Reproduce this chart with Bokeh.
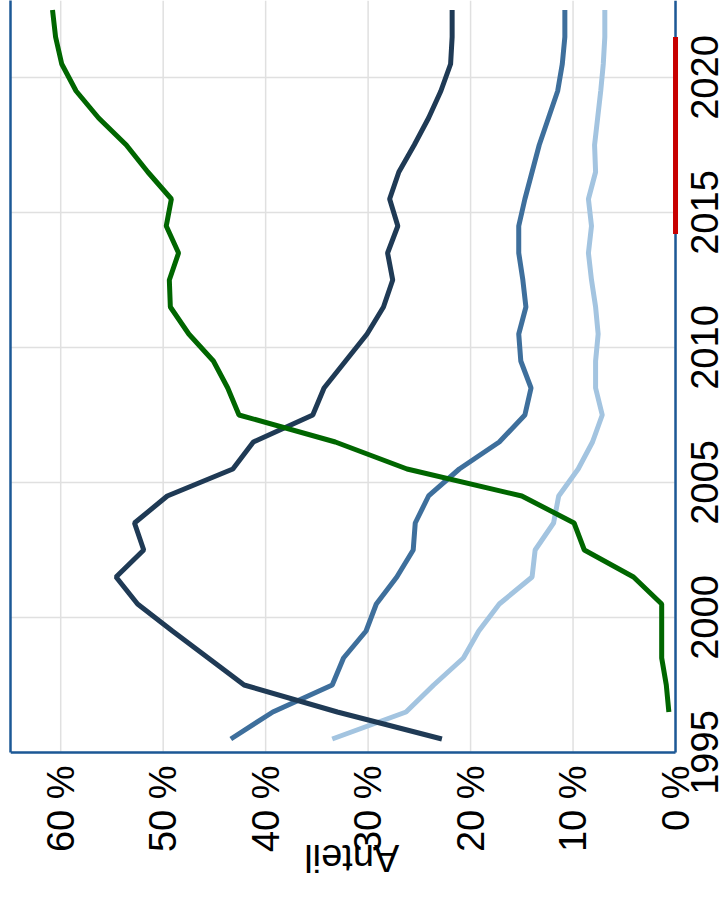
import math
from bokeh.plotting import figure
from bokeh.models import Range1d, LinearAxis, FixedTicker, ColumnDataSource
from bokeh.core.properties import value
from bokeh.embed import file_html
from bokeh.resources import INLINE

# ---- data ----
years = list(range(1995, 2023))
nan = float("nan")
series_green = [nan, 0.65, 0.9, 1.35, 1.35, 1.35, 4.1, 8.9, 9.9, 15.0, 26.2, 33.2, 42.6, 43.7,
                45.1, 47.5, 49.3, 49.4, 48.5, 49.7, 49.2, 51.5, 53.6, 56.3, 58.5, 59.9, 60.5, 60.8]
series_navy = [22.8, 33.0, 42.1, 45.6, 49.1, 52.5, 54.6, 51.9, 52.8, 49.6, 43.2, 41.2, 35.4, 34.3,
               32.2, 30.1, 28.5, 27.6, 28.1, 27.1, 27.9, 27.0, 25.5, 24.1, 22.9, 21.95, 21.8, 21.8]
series_mid = [43.4, 39.3, 33.5, 32.4, 30.2, 29.2, 27.2, 25.6, 25.4, 24.1, 21.1, 17.2, 14.7, 14.1,
              15.1, 15.3, 14.6, 14.9, 15.3, 15.3, 14.7, 14.0, 13.3, 12.4, 11.5, 11.05, 10.8, 10.8]
series_light = [33.5, 26.3, 23.6, 20.7, 19.2, 17.2, 14.0, 13.7, 11.9, 11.4, 9.5, 8.1, 7.15, 7.8,
                7.8, 7.55, 7.8, 8.2, 8.5, 8.2, 8.5, 7.8, 7.9, 7.6, 7.3, 7.05, 6.9, 6.9]

pct_ticks = [0, 10, 20, 30, 40, 50, 60]
pct_labels = ["0 %", "10 %", "20 %", "30 %", "40 %", "50 %", "60 %"]
year_ticks = [1995, 2000, 2005, 2010, 2015, 2020]
year_labels = ["1995", "2000", "2005", "2010", "2015", "2020"]
marked_start, marked_end = 2014.2, 2021.5
axis_title = "Anteil"

# ---- ranges / styles ----
PCT_MAX = 64.9           # left edge of the plotting area
PCT_MIN = -4.585         # room right of the 0 % line for the year labels
YEAR_MIN, YEAR_MAX = 1995, 2022.852
VIEW_YEAR_MIN = 1989.37  # room below the time axis for the tick labels
FRAME = "#1c5896"
GRID = "#e0e0e0"
FONT = "Liberation Sans"
FS = "38px"

mid_year = [y + 0.5 for y in years]

p = figure(frame_width=712, frame_height=904,
           x_range=Range1d(PCT_MAX, PCT_MIN), y_range=Range1d(VIEW_YEAR_MIN, YEAR_MAX),
           output_backend="svg", toolbar_location=None,
           y_axis_location=None,
           min_border_left=10, min_border_top=0, min_border_right=0, min_border_bottom=0)
p.outline_line_color = None
p.background_fill_color = "white"
p.border_fill_color = "white"
p.xgrid.visible = False
p.ygrid.visible = False

# grid lines inside the 0..PCT_MAX / YEAR_MIN..YEAR_MAX box
n_p, n_y = len(pct_ticks), len(year_ticks)
p.segment(x0=pct_ticks, x1=pct_ticks, y0=[YEAR_MIN] * n_p, y1=[YEAR_MAX] * n_p,
          line_color=GRID, line_width=1.5, level="underlay")
p.segment(x0=[0] * n_y, x1=[PCT_MAX] * n_y, y0=year_ticks, y1=year_ticks,
          line_color=GRID, line_width=1.5, level="underlay")

for vals, col in [(series_light, "#a3c4e0"), (series_mid, "#3e6f9c"),
                  (series_navy, "#1f3a55"), (series_green, "#006600")]:
    p.line(x=vals, y=mid_year, line_color=col, line_width=5)

def style_axis(ax):
    ax.major_tick_line_color = None
    ax.minor_tick_line_color = None
    ax.major_tick_out = 0
    ax.major_tick_in = 0
    ax.minor_tick_out = 0
    ax.minor_tick_in = 0
    ax.axis_line_color = FRAME
    ax.axis_line_width = 2.5
    ax.major_label_text_font = FONT
    ax.major_label_text_font_size = FS
    ax.major_label_text_color = "black"

# percent axis (bottom frame line + rotated tick labels)
xax = p.xaxis[0]
style_axis(xax)
xax.fixed_location = YEAR_MIN
xax.bounds = (0, PCT_MAX)
xax.ticker = FixedTicker(ticks=pct_ticks)
xax.major_label_overrides = {t: l for t, l in zip(pct_ticks, pct_labels)}
xax.major_label_orientation = math.pi / 2
xax.major_label_standoff = 13

# left frame line
lax = LinearAxis(ticker=FixedTicker(ticks=[]))
style_axis(lax)
lax.bounds = (YEAR_MIN, YEAR_MAX)
lax.major_label_text_font_size = "0px"
lax.major_label_standoff = 0
p.add_layout(lax, "left")

# time axis line at 0 %
p.segment(x0=[0], x1=[0], y0=[YEAR_MIN], y1=[YEAR_MAX], line_color=FRAME, line_width=2.5)

# year labels, rotated, centred on their ticks, right of the 0 % line
ysrc = ColumnDataSource(dict(x=[0] * n_y, y=year_ticks, text=year_labels))
p.text(x="x", y="y", text="text", source=ysrc, x_offset=15,
       angle=math.pi / 2, text_align="center", text_baseline="top",
       text_font=value(FONT), text_font_size=value(FS), text_color="black")

# axis title of the percent axis, upside down below its tick labels
p.text(x=[31.6], y=[YEAR_MIN], text=[axis_title], y_offset=106,
       angle=math.pi, text_align="center", text_baseline="alphabetic",
       text_font=value(FONT), text_font_size=value(FS), text_color="black")

# red marker on the time axis
p.segment(x0=[0], x1=[0], y0=[marked_start], y1=[marked_end],
          line_color="#c80000", line_width=5, level="overlay")

open("out.html", "w").write(file_html(p, INLINE))
